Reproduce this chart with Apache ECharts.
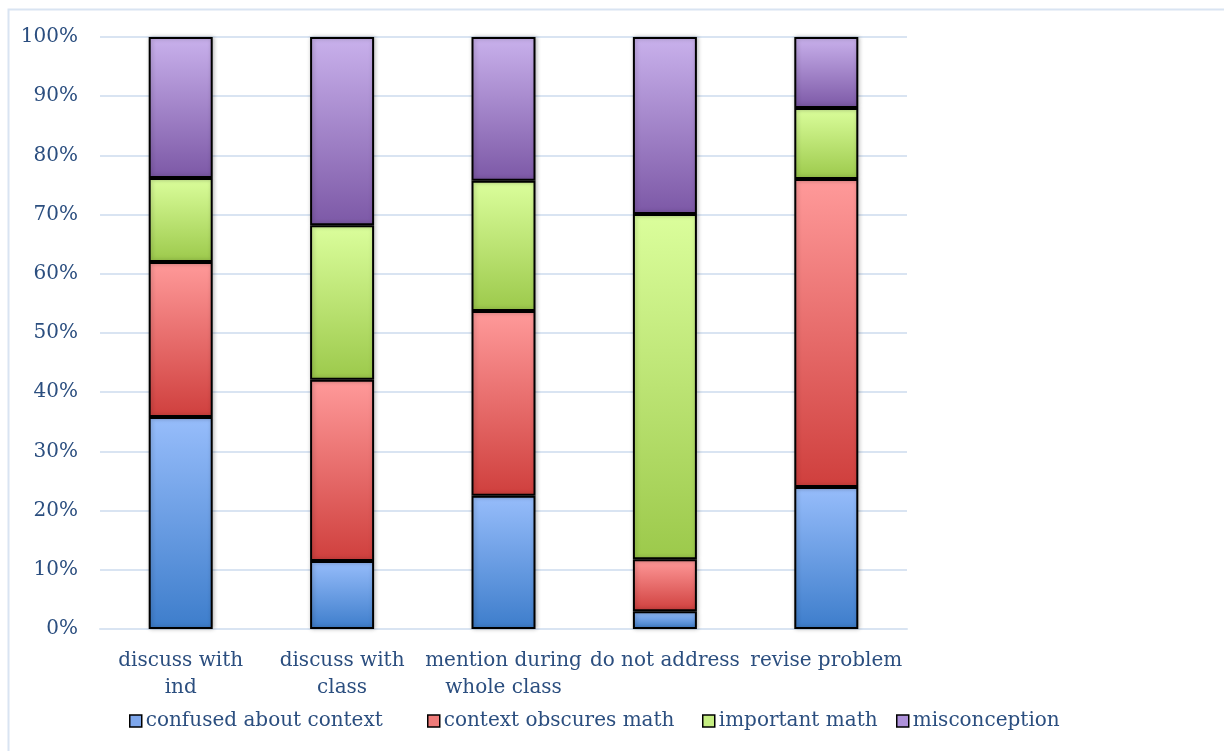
<!DOCTYPE html>
<html>
<head>
<meta charset="utf-8">
<script src="https://cdn.jsdelivr.net/npm/echarts@6/dist/echarts.min.js"></script>
<style>
  html, body { margin: 0; padding: 0; background: #fff; }
  #chart { width: 1224px; height: 751px; }
</style>
</head>
<body>
<div id="chart"></div>
<script>
// Responses by teacher action, as percentage of each column
const categories = ['discuss with\nind', 'discuss with\nclass', 'mention during\nwhole class', 'do not address', 'revise problem'];
const confusedAboutContext = [35.8, 11.5, 22.5, 3.0, 24.0];
const contextObscuresMath = [26.2, 30.6, 31.2, 8.8, 52.0];
const importantMath = [14.2, 26.1, 22.0, 58.3, 12.0];
const misconception = [23.8, 31.8, 24.3, 29.9, 12.0];
const yTicks = [0, 10, 20, 30, 40, 50, 60, 70, 80, 90, 100];

const FONT = 'DejaVu Serif';
const TEXT = '#2B4E7F';
const FS = 20;

function grad(top, bottom) {
  return new echarts.graphic.LinearGradient(0, 0, 0, 1, [
    { offset: 0, color: top },
    { offset: 1, color: bottom }
  ]);
}

const seriesDefs = [
  { name: 'confused about context', data: confusedAboutContext, top: '#97BDFB', bottom: '#3D7DCB', icon: '#7EA7EC', legendLeft: 129 },
  { name: 'context obscures math', data: contextObscuresMath, top: '#FF9A9A', bottom: '#CF3F3D', icon: '#EF7B79', legendLeft: 427 },
  { name: 'important math', data: importantMath, top: '#DBFE9C', bottom: '#9CC94B', icon: '#C6EE82', legendLeft: 702 },
  { name: 'misconception', data: misconception, top: '#C9B1EC', bottom: '#7C58A6', icon: '#AE91DA', legendLeft: 896 }
];

// one legend block per series so each entry sits at its own column
const legends = seriesDefs.map(s => ({
  top: 711,
  left: s.legendLeft,
  padding: 0,
  itemWidth: 12,
  itemHeight: 12,
  textStyle: { fontFamily: FONT, fontSize: FS, color: TEXT, padding: [0, 0, 0, -1] },
  data: [{
    name: s.name,
    icon: 'rect',
    itemStyle: { color: s.icon, borderColor: '#000', borderWidth: 1.5 }
  }]
}));

const chart = echarts.init(document.getElementById('chart'));
chart.setOption({
  animation: false,
  backgroundColor: '#ffffff',
  graphic: [{
    type: 'polyline',
    shape: { points: [[8.5, 751], [8.5, 9.5], [1224, 9.5]] },
    style: { stroke: '#D9E4F2', lineWidth: 2, fill: null },
    silent: true
  }],
  grid: { left: 100, right: 317, top: 37, bottom: 122, containLabel: false },
  legend: legends,
  xAxis: {
    type: 'category',
    data: categories,
    axisLine: { show: true, lineStyle: { color: '#D9E4F2', width: 2 } },
    axisTick: { show: false },
    axisLabel: {
      interval: 0,
      fontFamily: FONT,
      fontSize: FS,
      color: TEXT,
      lineHeight: 27,
      margin: 18
    }
  },
  yAxis: {
    type: 'value',
    min: 0,
    max: 100,
    interval: 10,
    axisLine: { show: false },
    axisTick: { show: false },
    splitLine: { lineStyle: { color: '#D9E4F2', width: 2 } },
    axisLabel: {
      fontFamily: FONT,
      fontSize: FS,
      color: TEXT,
      margin: 22,
      formatter: v => yTicks.includes(v) ? v + '%' : ''
    }
  },
  series: seriesDefs.map(s => ({
    name: s.name,
    type: 'bar',
    stack: 'total',
    barWidth: 64,
    data: s.data,
    itemStyle: {
      color: grad(s.top, s.bottom),
      borderColor: '#000',
      borderWidth: 2,
      shadowColor: 'rgba(0,0,0,0.25)',
      shadowBlur: 4,
      shadowOffsetX: 1
    }
  }))
});
</script>
</body>
</html>
